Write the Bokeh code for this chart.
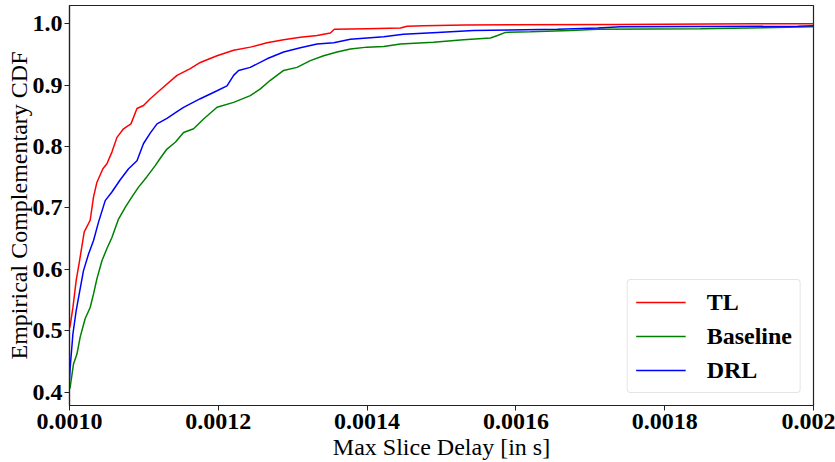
from bokeh.plotting import figure
from bokeh.models import Range1d, FixedTicker, Legend, LegendItem
from bokeh.embed import file_html
from bokeh.resources import INLINE

# ---- data ----
tl_x = [0.0010000, 0.0010009, 0.0010046, 0.0010090, 0.0010135, 0.0010198, 0.0010278, 0.0010323,
        0.0010369, 0.0010449, 0.0010503, 0.0010570, 0.0010638, 0.0010726, 0.0010826, 0.0010907,
        0.0010995, 0.0011085, 0.0011264, 0.0011445, 0.0011623, 0.0011758, 0.0011983, 0.0012206,
        0.0012430, 0.0012655, 0.0012878, 0.0013103, 0.0013328, 0.0013506, 0.0013560, 0.0014000,
        0.0014448, 0.0014538, 0.0014757, 0.0015322, 0.0017380, 0.0019196, 0.0020000]
tl_y = [0.505, 0.508, 0.538, 0.582, 0.614, 0.661, 0.680, 0.718,
        0.742, 0.764, 0.772, 0.791, 0.815, 0.829, 0.837, 0.862,
        0.867, 0.878, 0.897, 0.916, 0.927, 0.937, 0.948, 0.957,
        0.962, 0.969, 0.974, 0.978, 0.981, 0.985, 0.991, 0.992,
        0.993, 0.996, 0.997, 0.998, 0.999, 1.000, 1.000]

drl_x = [0.0010000, 0.0010009, 0.0010046, 0.0010090, 0.0010135, 0.0010188, 0.0010256, 0.0010323,
         0.0010390, 0.0010480, 0.0010570, 0.0010682, 0.0010794, 0.0010907, 0.0010995, 0.0011085,
         0.0011176, 0.0011310, 0.0011445, 0.0011533, 0.0011758, 0.0011983, 0.0012117, 0.0012206,
         0.0012273, 0.0012430, 0.0012655, 0.0012878, 0.0013103, 0.0013328, 0.0013551, 0.0013775,
         0.0014000, 0.0014223, 0.0014488, 0.0014946, 0.0015430, 0.0016560, 0.0017098, 0.0017407,
         0.0019788, 0.0020000]
drl_y = [0.420, 0.440, 0.495, 0.533, 0.563, 0.598, 0.625, 0.647,
         0.677, 0.712, 0.726, 0.746, 0.764, 0.777, 0.805, 0.822,
         0.837, 0.846, 0.857, 0.864, 0.878, 0.891, 0.899, 0.916,
         0.924, 0.929, 0.943, 0.954, 0.961, 0.967, 0.969, 0.975,
         0.977, 0.979, 0.983, 0.986, 0.989, 0.991, 0.993, 0.995,
         0.996, 0.997]

base_x = [0.0010000, 0.0010009, 0.0010054, 0.0010100, 0.0010144, 0.0010211, 0.0010278, 0.0010323,
          0.0010369, 0.0010436, 0.0010503, 0.0010570, 0.0010659, 0.0010749, 0.0010839, 0.0010928,
          0.0011041, 0.0011152, 0.0011220, 0.0011310, 0.0011422, 0.0011533, 0.0011668, 0.0011802,
          0.0011983, 0.0012206, 0.0012430, 0.0012565, 0.0012699, 0.0012878, 0.0013058, 0.0013237,
          0.0013416, 0.0013596, 0.0013775, 0.0014000, 0.0014223, 0.0014448, 0.0014892, 0.0015295,
          0.0015658, 0.0015753, 0.0015860, 0.0016196, 0.0016734, 0.0017098, 0.0018483, 0.0020000]
base_y = [0.405, 0.408, 0.446, 0.462, 0.490, 0.520, 0.538, 0.560,
          0.585, 0.614, 0.634, 0.652, 0.682, 0.701, 0.718, 0.734,
          0.751, 0.769, 0.781, 0.796, 0.807, 0.823, 0.829, 0.845,
          0.864, 0.872, 0.883, 0.894, 0.908, 0.924, 0.929, 0.940,
          0.948, 0.954, 0.959, 0.962, 0.963, 0.967, 0.970, 0.974,
          0.977, 0.981, 0.986, 0.987, 0.989, 0.991, 0.992, 0.995]

x_ticks = [0.0010, 0.0012, 0.0014, 0.0016, 0.0018, 0.0020]
x_tick_labels = ["0.0010", "0.0012", "0.0014", "0.0016", "0.0018", "0.002"]
y_ticks = [0.4, 0.5, 0.6, 0.7, 0.8, 0.9, 1.0]
y_tick_labels = ["0.4", "0.5", "0.6", "0.7", "0.8", "0.9", "1.0"]
x_title = "Max Slice Delay [in s]"
y_title = "Empirical Complementary CDF"

SERIF = "Liberation Serif"

p = figure(width=835, height=462, output_backend="svg", toolbar_location=None,
           x_range=Range1d(0.001, 0.002), y_range=Range1d(0.3783, 1.0298),
           min_border_left=69, min_border_right=22, min_border_top=5, min_border_bottom=57)

p.background_fill_color = "white"
p.border_fill_color = "white"
p.outline_line_color = "#222222"
p.outline_line_width = 1.2
p.grid.visible = False

r_tl = p.line(tl_x, tl_y, line_color="red", line_width=1.5)
r_base = p.line(base_x, base_y, line_color="green", line_width=1.5)
r_drl = p.line(drl_x, drl_y, line_color="blue", line_width=1.5)

p.xaxis.ticker = FixedTicker(ticks=x_ticks)
p.xaxis.major_label_overrides = {t: l for t, l in zip(x_ticks, x_tick_labels)}
p.yaxis.ticker = FixedTicker(ticks=y_ticks)
p.yaxis.major_label_overrides = {t: l for t, l in zip(y_ticks, y_tick_labels)}

for ax in (p.xaxis, p.yaxis):
    ax.major_label_text_font = SERIF
    ax.major_label_text_font_style = "bold"
    ax.major_label_text_font_size = "24px"
    ax.major_label_text_color = "black"
    ax.axis_label_text_font = SERIF
    ax.axis_label_text_font_style = "normal"
    ax.axis_label_text_font_size = "24px"
    ax.axis_label_text_color = "black"
    ax.axis_label_text_line_height = 1.0
    ax.minor_tick_line_color = None
    ax.major_tick_in = 0
    ax.major_tick_out = 5
    ax.major_tick_line_color = "#222222"
    ax.axis_line_color = "#222222"
    ax.axis_line_width = 1.2

p.xaxis.axis_label = x_title
p.yaxis.axis_label = y_title
p.xaxis.major_label_standoff = 3
p.yaxis.major_label_standoff = 2
p.xaxis.axis_label_standoff = 2
p.yaxis.axis_label_standoff = -2

legend = Legend(items=[LegendItem(label="TL", renderers=[r_tl]),
                       LegendItem(label="Baseline", renderers=[r_base]),
                       LegendItem(label="DRL", renderers=[r_drl])],
                location="bottom_right")
legend.margin = 12
legend.padding = 8
legend.spacing = 6
legend.glyph_width = 50
legend.glyph_height = 28
legend.label_standoff = 21
legend.label_text_font = SERIF
legend.label_text_font_style = "bold"
legend.label_text_font_size = "24px"
legend.label_text_color = "black"
legend.border_line_color = "#cccccc"
legend.border_line_width = 1
legend.border_radius = 4
legend.background_fill_color = "white"
legend.background_fill_alpha = 0.8
p.add_layout(legend)

open("out.html", "w").write(file_html(p, INLINE))
